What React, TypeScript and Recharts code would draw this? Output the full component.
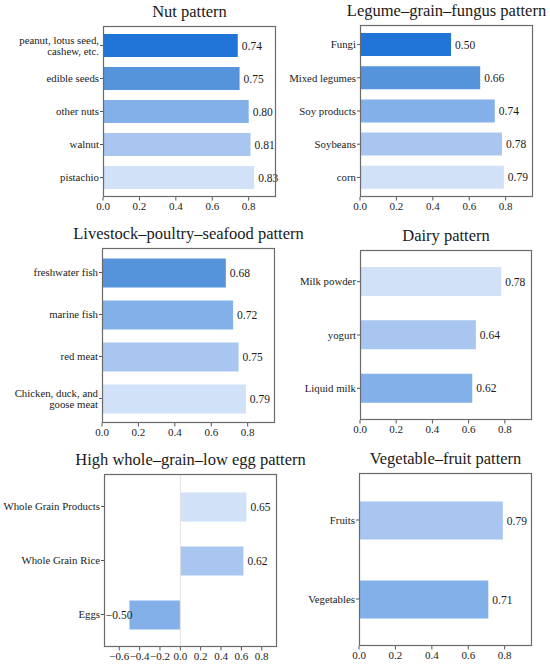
import { BarChart, Bar, XAxis, YAxis, LabelList, ReferenceLine, Cell } from "recharts";

// panel data, listed top to bottom as drawn
const nutCategories = ["peanut, lotus seed,\ncashew, etc.", "edible seeds", "other nuts", "walnut", "pistachio"];
const nutValues = [0.74, 0.75, 0.8, 0.81, 0.83];

const legumeCategories = ["Fungi", "Mixed legumes", "Soy products", "Soybeans", "corn"];
const legumeValues = [0.5, 0.66, 0.74, 0.78, 0.79];

const livestockCategories = ["freshwater fish", "marine fish", "red meat", "Chicken, duck, and\ngoose meat"];
const livestockValues = [0.68, 0.72, 0.75, 0.79];

const dairyCategories = ["Milk powder", "yogurt", "Liquid milk"];
const dairyValues = [0.78, 0.64, 0.62];

const grainCategories = ["Whole Grain Products", "Whole Grain Rice", "Eggs"];
const grainValues = [0.65, 0.62, -0.5];

const vegCategories = ["Fruits", "Vegetables"];
const vegValues = [0.79, 0.71];

const positiveTicks = [0, 0.2, 0.4, 0.6, 0.8];
const grainTicks = [-0.6, -0.4, -0.2, 0, 0.2, 0.4, 0.6, 0.8];

const BLUE1 = "#2275d8";
const BLUE2 = "#5593db";
const BLUE3 = "#84b0ea";
const BLUE4 = "#a9c6f1";
const BLUE5 = "#d0e1f8";

const FONT = "'Liberation Serif', 'Times New Roman', serif";
const TEXT = "#1a1a1a";
const FRAME = "#6a6a6a";

const fmtTick = (v: number) => (v < 0 ? "\u2212" + Math.abs(v).toFixed(1) : v.toFixed(1));

type Box = { left: number; top: number; right: number; bottom: number };

type Panel = {
  title: string;
  categories: string[];
  values: number[];
  colors: string[];
  domain: [number, number];
  ticks: number[];
  barSize: number;
  pad: number;
  chartLeft: number;
  chartTop: number;
  chartWidth: number;
  chartHeight: number;
  xAxisHeight: number;
  box: Box;
  zeroLine?: boolean;
};

const panels: Panel[] = [
  {
    title: "Nut pattern",
    categories: nutCategories,
    values: nutValues,
    colors: [BLUE1, BLUE2, BLUE3, BLUE4, BLUE5],
    domain: [0, 0.95],
    ticks: positiveTicks,
    barSize: 23,
    pad: 3,
    chartLeft: 0,
    chartTop: 0,
    chartWidth: 295,
    chartHeight: 220,
    xAxisHeight: 20,
    box: { left: 103, top: 26, right: 276, bottom: 197 },
  },
  {
    title: "Legume\u2013grain\u2013fungus pattern",
    categories: legumeCategories,
    values: legumeValues,
    colors: [BLUE1, BLUE2, BLUE3, BLUE4, BLUE5],
    domain: [0, 0.95],
    ticks: positiveTicks,
    barSize: 23,
    pad: 3,
    chartLeft: 276,
    chartTop: 0,
    chartWidth: 274,
    chartHeight: 220,
    xAxisHeight: 20,
    box: { left: 360, top: 25, right: 533, bottom: 197 },
  },
  {
    title: "Livestock\u2013poultry\u2013seafood pattern",
    categories: livestockCategories,
    values: livestockValues,
    colors: [BLUE2, BLUE3, BLUE4, BLUE5],
    domain: [0, 0.95],
    ticks: positiveTicks,
    barSize: 29,
    pad: 3.5,
    chartLeft: 0,
    chartTop: 222,
    chartWidth: 295,
    chartHeight: 225,
    xAxisHeight: 20,
    box: { left: 102, top: 248, right: 275, bottom: 423 },
  },
  {
    title: "Dairy pattern",
    categories: dairyCategories,
    values: dairyValues,
    colors: [BLUE5, BLUE4, BLUE3],
    domain: [0, 0.95],
    ticks: positiveTicks,
    barSize: 29,
    pad: 5,
    chartLeft: 276,
    chartTop: 222,
    chartWidth: 274,
    chartHeight: 225,
    xAxisHeight: 20,
    box: { left: 360, top: 250, right: 532, bottom: 420 },
  },
  {
    title: "High whole\u2013grain\u2013low egg pattern",
    categories: grainCategories,
    values: grainValues,
    colors: [BLUE5, BLUE4, BLUE3],
    domain: [-0.75, 0.95],
    ticks: grainTicks,
    barSize: 29,
    pad: 5.5,
    chartLeft: 0,
    chartTop: 445,
    chartWidth: 295,
    chartHeight: 220,
    xAxisHeight: 16,
    box: { left: 104, top: 474, right: 277, bottom: 647 },
    zeroLine: true,
  },
  {
    title: "Vegetable\u2013fruit pattern",
    categories: vegCategories,
    values: vegValues,
    colors: [BLUE4, BLUE3],
    domain: [0, 0.95],
    ticks: positiveTicks,
    barSize: 38,
    pad: 7.5,
    chartLeft: 276,
    chartTop: 445,
    chartWidth: 274,
    chartHeight: 220,
    xAxisHeight: 16,
    box: { left: 359, top: 473, right: 532, bottom: 646 },
  },
];

function CategoryTick(props: any) {
  const { x, y, payload } = props;
  const lines = String(payload.value).split("\n");
  const lh = 11.5;
  const start = -((lines.length - 1) * lh) / 2;
  return (
    <text x={x} y={y} textAnchor="end" style={{ fontFamily: FONT, fontSize: 10.8 }} fill={TEXT}>
      {lines.map((line, i) => (
        <tspan key={i} x={x} y={y + start + i * lh} dy="0.35em">
          {line}
        </tspan>
      ))}
    </text>
  );
}

function NumberTick(props: any) {
  const { x, y, payload } = props;
  return (
    <text x={x} y={y} dy="0.71em" textAnchor="middle" style={{ fontFamily: FONT, fontSize: 11 }} fill={TEXT}>
      {fmtTick(payload.value)}
    </text>
  );
}

function ValueLabel(props: any) {
  const { x, y, width, height, value } = props;
  const v = Number(value);
  const endX = v < 0 ? Math.min(x, x + width) : Math.max(x, x + width);
  const text = v < 0 ? "\u2212" + Math.abs(v).toFixed(2) : v.toFixed(2);
  return (
    <text
      x={v < 0 ? endX + 3 : endX + 4}
      y={y + height / 2}
      dy="0.35em"
      textAnchor={v < 0 ? "end" : "start"}
      style={{ fontFamily: FONT, fontSize: 11.5 }}
      fill={TEXT}
    >
      {text}
    </text>
  );
}

function PanelChart({ p }: { p: Panel }) {
  const data = p.categories.map((name, i) => ({ name, value: p.values[i] }));
  const yAxisWidth = p.box.left - p.chartLeft;
  const margin = {
    top: p.box.top - p.chartTop,
    right: p.chartLeft + p.chartWidth - p.box.right,
    bottom: p.chartTop + p.chartHeight - p.box.bottom - p.xAxisHeight,
    left: 0,
  };
  return (
    <div style={{ position: "absolute", left: p.chartLeft, top: p.chartTop }}>
      <BarChart layout="vertical" width={p.chartWidth} height={p.chartHeight} data={data} margin={margin}>
        <XAxis
          type="number"
          domain={p.domain}
          ticks={p.ticks}
          allowDataOverflow
          height={p.xAxisHeight}
          axisLine={false}
          tickLine={{ stroke: "#555" }}
          tickSize={3.5}
          tickMargin={2}
          tick={<NumberTick />}
          interval={0}
        />
        <YAxis
          type="category"
          dataKey="name"
          width={yAxisWidth}
          padding={{ top: p.pad, bottom: p.pad }}
          axisLine={false}
          tickLine={{ stroke: "#555" }}
          tickSize={3}
          tickMargin={1}
          tick={<CategoryTick />}
          interval={0}
        />
        {p.zeroLine && <ReferenceLine x={0} stroke="#e2e2e2" strokeWidth={1} />}
        <Bar dataKey="value" barSize={p.barSize} isAnimationActive={false}>
          {data.map((_, i) => (
            <Cell key={i} fill={p.colors[i]} />
          ))}
          <LabelList dataKey="value" content={<ValueLabel />} />
        </Bar>
      </BarChart>
    </div>
  );
}

export default function App() {
  return (
    <div
      style={{
        position: "absolute",
        left: 0,
        top: 0,
        width: 550,
        height: 665,
        background: "#fff",
        fontFamily: FONT,
      }}
    >
      {panels.map((p, i) => (
        <PanelChart key={i} p={p} />
      ))}
      <svg
        width={550}
        height={665}
        style={{ position: "absolute", left: 0, top: 0, pointerEvents: "none" }}
      >
        {panels.map((p, i) => (
          <g key={i}>
            <rect
              x={p.box.left + 0.5}
              y={p.box.top + 0.5}
              width={p.box.right - p.box.left - 1}
              height={p.box.bottom - p.box.top - 1}
              fill="none"
              stroke={FRAME}
              strokeWidth={1.2}
            />
            <text
              x={(p.box.left + p.box.right) / 2}
              y={p.box.top - 9}
              textAnchor="middle"
              style={{ fontFamily: FONT, fontSize: 16.5 }}
              fill={TEXT}
            >
              {p.title}
            </text>
          </g>
        ))}
      </svg>
    </div>
  );
}
